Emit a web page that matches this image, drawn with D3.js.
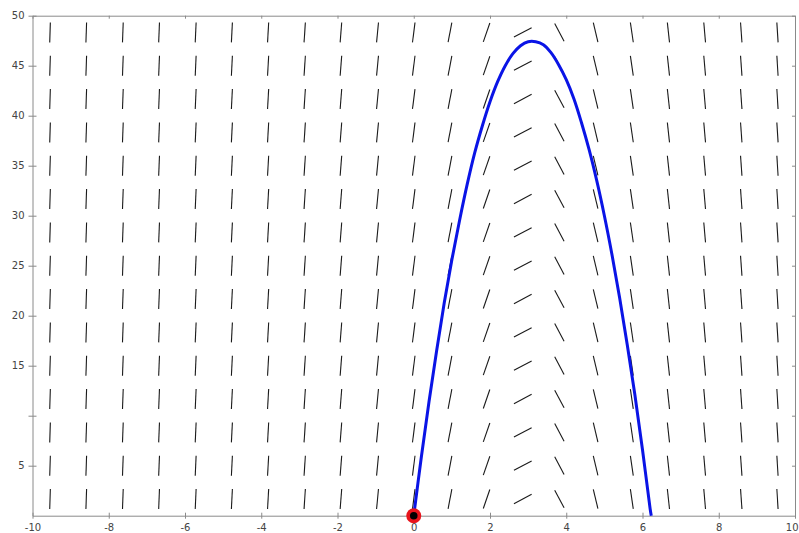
<!DOCTYPE html>
<html>
<head>
<meta charset="utf-8">
<script src="https://cdn.jsdelivr.net/npm/d3@7"></script>
<style>
  html, body { margin: 0; padding: 0; background: #fff; }
  svg { display: block; }
  .tick text { font-family: "DejaVu Sans", sans-serif; font-size: 10px; fill: #444; }
</style>
</head>
<body>
<svg id="chart" width="799" height="533"></svg>
<script>
// ---- data ----
const fieldX = [-9.54, -8.59, -7.63, -6.68, -5.72, -4.77, -3.82, -2.86, -1.91, -0.95, 0,
                0.95, 1.91, 2.86, 3.82, 4.77, 5.72, 6.68, 7.63, 8.59, 9.54];
const fieldSlope = [124, 114, 105, 96, 86, 77, 68, 58, 49, 40, 30,
                    20, 11, 2, -7.2, -16, -26, -35, -44, -54, -63];
const fieldY = [1.67, 5.0, 8.33, 11.67, 15.0, 18.33, 21.67, 25.0, 28.33, 31.67,
                35.0, 38.33, 41.67, 45.0, 48.33];
const curveX = [0, 0.2, 0.4, 0.6, 0.8, 1.0, 1.2, 1.4, 1.6, 1.8, 2.0, 2.2, 2.4, 2.6, 2.8, 3.0,
                3.2, 3.4, 3.6, 3.8, 4.0, 4.2, 4.4, 4.6, 4.8, 5.0, 5.2, 5.4, 5.6, 5.8, 6.0, 6.2, 6.23];
const curveY = [0, 5.9, 11.4, 16.5, 21.3, 25.6, 29.5, 33.1, 36.3, 39.0, 41.4, 43.4, 45.0, 46.2, 47.0, 47.4,
                47.4, 47.1, 46.3, 45.1, 43.6, 41.7, 39.3, 36.6, 33.5, 30.0, 26.1, 21.8, 17.1, 12.1, 6.6, 0.7, 0];
const startPoint = [0, 0];
const xTicks = [-10, -8, -6, -4, -2, 0, 2, 4, 6, 8, 10];
const xTickLabels = ["-10", "-8", "-6", "-4", "-2", "0", "2", "4", "6", "8", "10"];
const yTicks = [5, 10, 15, 20, 25, 30, 35, 40, 45, 50];
const yTickLabels = ["5", "", "15", "20", "25", "30", "35", "40", "45", "50"];

// ---- layout ----
const svg = d3.select("#chart");
const x = d3.scaleLinear().domain([-10, 10]).range([32.5, 795]);
const y = d3.scaleLinear().domain([0, 50]).range([515.7, 15.7]);
const axisColor = "#8a8a8a";
const segLen = 20;

// slope field
const kx = (x(1) - x(0)), ky = (y(0) - y(1));
const segs = [];
fieldX.forEach((fx, i) => {
  fieldY.forEach(fy => segs.push({fx, fy, s: fieldSlope[i]}));
});
function half(d) {
  const dx = kx, dy = d.s * ky, n = Math.hypot(dx, dy);
  return [dx / n * segLen / 2, dy / n * segLen / 2];
}
svg.append("g").selectAll("line").data(segs).join("line")
  .attr("x1", d => x(d.fx) - half(d)[0])
  .attr("x2", d => x(d.fx) + half(d)[0])
  .attr("y1", d => y(d.fy) + half(d)[1])
  .attr("y2", d => y(d.fy) - half(d)[1])
  .attr("stroke", "#1a1a1a").attr("stroke-width", 1.1);

// axes
function styleAxis(g) {
  g.select(".domain").attr("stroke", axisColor);
  g.selectAll(".tick line").attr("stroke", axisColor);
}
svg.append("g").attr("transform", `translate(0,${y(0)})`)
  .call(d3.axisBottom(x).tickValues(xTicks).tickFormat((d, i) => xTickLabels[i]).tickSize(3).tickSizeOuter(0).tickPadding(5))
  .call(styleAxis)
  .call(g => g.selectAll(".tick line").attr("y1", -3))
  .call(g => g.selectAll(".tick text").filter(d => d === 10).attr("text-anchor", "end").attr("dx", 3));
svg.append("g").attr("transform", `translate(0,${y(50)})`)
  .call(d3.axisBottom(x).tickValues(xTicks).tickFormat("").tickSize(3).tickSizeOuter(0))
  .call(styleAxis);
svg.append("g").attr("transform", `translate(${x(-10)},0)`)
  .call(d3.axisLeft(y).tickValues(yTicks).tickFormat((d, i) => yTickLabels[i]).tickSize(4).tickSizeOuter(0).tickPadding(4))
  .call(styleAxis)
  .call(g => g.selectAll(".tick line").attr("x2", -4).attr("x1", 4));
svg.append("g").attr("transform", `translate(${x(10)},0)`)
  .call(d3.axisLeft(y).tickValues(yTicks).tickFormat("").tickSize(3).tickSizeOuter(0))
  .call(styleAxis)
  .call(g => g.selectAll(".tick line").attr("x2", -3));

// solution curve
const pts = curveX.map((cx, i) => [cx, curveY[i]]);
svg.append("path").datum(pts)
  .attr("d", d3.line().x(d => x(d[0])).y(d => y(d[1])).curve(d3.curveCatmullRom))
  .attr("fill", "none").attr("stroke", "#0a14e6").attr("stroke-width", 3)
  .attr("stroke-linejoin", "round");

// starting point
svg.append("circle").attr("cx", x(startPoint[0])).attr("cy", y(startPoint[1]))
  .attr("r", 7.5).attr("fill", "#e8141c");
svg.append("circle").attr("cx", x(startPoint[0])).attr("cy", y(startPoint[1]))
  .attr("r", 3.8).attr("fill", "#000");
</script>
</body>
</html>
